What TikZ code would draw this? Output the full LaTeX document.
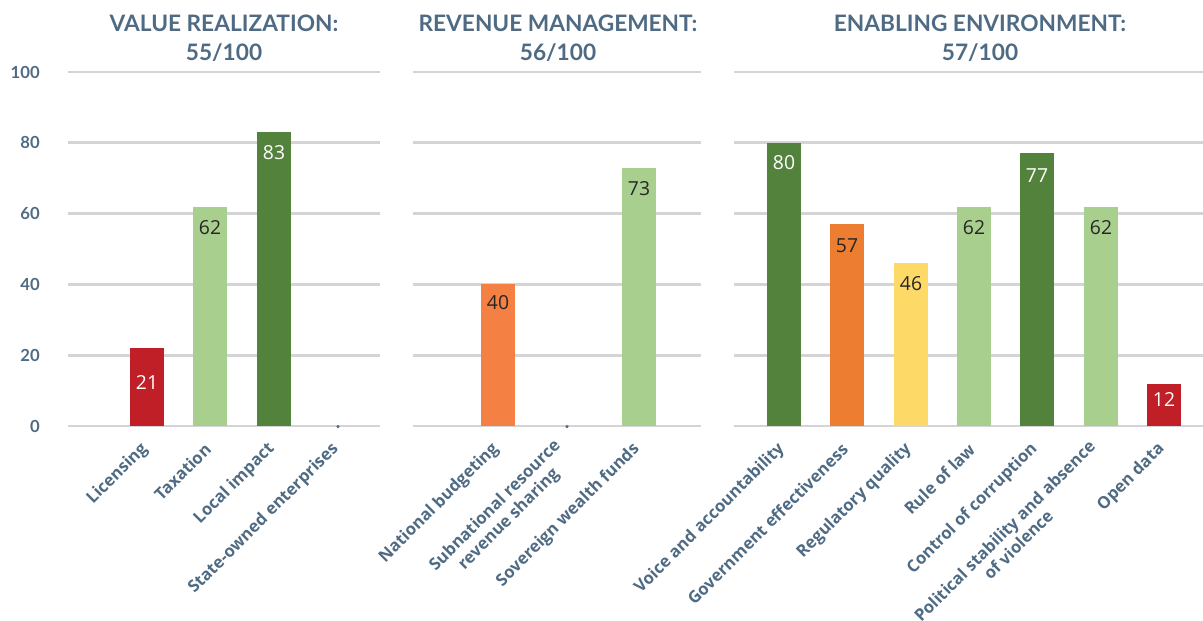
\documentclass[tikz,border=0pt]{standalone}
\usepackage{fontspec}
\setmainfont{Open Sans}
\newfontfamily\headfont{Lato}
\usetikzlibrary{positioning,calc}

\definecolor{slate}{HTML}{4F6B84}
\definecolor{gridgray}{HTML}{D4D4D7}
\definecolor{scorered}{HTML}{C01F27}
\definecolor{scorelime}{HTML}{A9CF8E}
\definecolor{scoregreen}{HTML}{52823B}
\definecolor{scoreorange}{HTML}{F48044}
\definecolor{scoreamber}{HTML}{ED7D31}
\definecolor{scoreyellow}{HTML}{FDD967}
\definecolor{numdark}{HTML}{262626}

% bar height from a score (one score point = 2.655pt)
\newcommand{\score}[1]{#1*2.655pt}

\begin{document}
\begin{tikzpicture}[
  x=0.75pt, y=0.75pt,
  title/.style={font=\headfont\bfseries\fontsize{17}{21.75}\selectfont, text=slate, align=center, anchor=north, inner sep=0pt},
  tick/.style={font=\headfont\bfseries\fontsize{12.5}{15}\selectfont, text=slate, anchor=east, inner sep=0pt},
  gridline/.style={draw=gridgray, line width=2.2pt},
  scorebar/.style={anchor=south, minimum width=25.5pt, inner sep=0pt, outer sep=0pt},
  val/.style={font=\fontsize{14.5}{16}\selectfont, inner sep=0pt},
  cat/.style={font=\bfseries\fontsize{12.5}{14.5}\selectfont, text=slate, rotate=45, anchor=east, align=center, inner sep=1pt},
  nulldot/.style={circle, fill=slate, inner sep=0pt, minimum size=2.6pt}
]
\useasboundingbox (0,0) rectangle (1203,621);

% Panel titles
\node[title] (ttl-value) at (224,606) {VALUE REALIZATION:\\55/100};
\node[title] (ttl-revenue) at (558,606) {REVENUE MANAGEMENT:\\56/100};
\node[title] (ttl-enabling) at (980,606) {ENABLING ENVIRONMENT:\\57/100};

% Plot area: x in px, y in score points
\begin{scope}[y=2.655pt, yshift=146.25pt]

% Grid lines (one path per panel)
\draw[gridline] (68,0) -- (380,0) (68,20) -- (380,20) (68,40) -- (380,40)
  (68,60) -- (380,60) (68,80) -- (380,80) (68,100) -- (380,100);
\draw[gridline] (413,0) -- (701,0) (413,20) -- (701,20) (413,40) -- (701,40)
  (413,60) -- (701,60) (413,80) -- (701,80) (413,100) -- (701,100);
\draw[gridline] (734,0) -- (1203,0) (734,20) -- (1203,20) (734,40) -- (1203,40)
  (734,60) -- (1203,60) (734,80) -- (1203,80) (734,100) -- (1203,100);

% Axis ticks
\node[tick] (tk0) at (40,0) {0};
\node[tick] (tk20) at (40,20) {20};
\node[tick] (tk40) at (40,40) {40};
\node[tick] (tk60) at (40,60) {60};
\node[tick] (tk80) at (40,80) {80};
\node[tick] (tk100) at (40,100) {100};

% Value realization
\node[scorebar, fill=scorered, minimum height={\score{22}}] (lic) at (147,0) {};
\node[scorebar, fill=scorelime, minimum height={\score{62}}] (tax) at (210,0) {};
\node[scorebar, fill=scoregreen, minimum height={\score{83}}] (loc) at (274,0) {};
\node[nulldot] (soe) at (338,-0.2) {};

\node[val, text=white] (lic-v) at ($(lic.north)+(0,-26pt)$) {21};
\node[val, text=numdark] (tax-v) at ($(tax.north)+(0,-15.5pt)$) {62};
\node[val, text=white] (loc-v) at ($(loc.north)+(0,-15pt)$) {83};

% Revenue management
\node[scorebar, fill=scoreorange, minimum height={\score{40}}] (nat) at (498,0) {};
\node[nulldot] (sub) at (567,-0.2) {};
\node[scorebar, fill=scorelime, minimum height={\score{73}}] (sov) at (639,0) {};

\node[val, text=numdark] (nat-v) at ($(nat.north)+(0,-13.5pt)$) {40};
\node[val, text=numdark] (sov-v) at ($(sov.north)+(0,-16pt)$) {73};

% Enabling environment
\node[scorebar, fill=scoregreen, minimum height={\score{80}}] (voi) at (784,0) {};
\node[scorebar, fill=scoreamber, minimum height={\score{57}}] (gov) at (847,0) {};
\node[scorebar, fill=scoreyellow, minimum height={\score{46}}] (reg) at (911,0) {};
\node[scorebar, fill=scorelime, minimum height={\score{62}}] (rul) at (974,0) {};
\node[scorebar, fill=scoregreen, minimum height={\score{77}}] (con) at (1037,0) {};
\node[scorebar, fill=scorelime, minimum height={\score{62}}] (pol) at (1101,0) {};
\node[scorebar, fill=scorered, minimum height={\score{12}}] (ope) at (1164,0) {};

\node[val, text=white] (voi-v) at ($(voi.north)+(0,-14.5pt)$) {80};
\node[val, text=numdark] (gov-v) at ($(gov.north)+(0,-16pt)$) {57};
\node[val, text=numdark] (reg-v) at ($(reg.north)+(0,-15pt)$) {46};
\node[val, text=numdark] (rul-v) at ($(rul.north)+(0,-16pt)$) {62};
\node[val, text=white] (con-v) at ($(con.north)+(0,-16.5pt)$) {77};
\node[val, text=numdark] (pol-v) at ($(pol.north)+(0,-16pt)$) {62};
\node[val, text=white] (ope-v) at ($(ope.north)+(0,-12pt)$) {12};

% Category labels (slanted)
\node[cat] (lic-c) at (146,-5.5) {Licensing};
\node[cat] (tax-c) at (209,-5.5) {Taxation};
\node[cat] (loc-c) at (273,-5.5) {Local impact};
\node[cat] (soe-c) at (337,-5.5) {State-owned enterprises};
\node[cat] (nat-c) at (497,-5.5) {National budgeting};
\node[cat] (sub-c) at (566,-6.5) {Subnational resource\\revenue sharing};
\node[cat] (sov-c) at (638,-5.5) {Sovereign wealth funds};
\node[cat] (voi-c) at (783,-5.5) {Voice and accountability};
\node[cat] (gov-c) at (846,-5.5) {Government effectiveness};
\node[cat] (reg-c) at (910,-5.5) {Regulatory quality};
\node[cat] (rul-c) at (973,-5.5) {Rule of law};
\node[cat] (con-c) at (1036,-5.5) {Control of corruption};
\node[cat] (pol-c) at (1100,-6.5) {Political stability and absence\\of violence};
\node[cat] (ope-c) at (1163,-5.5) {Open data};

\end{scope}

\end{tikzpicture}
\end{document}
